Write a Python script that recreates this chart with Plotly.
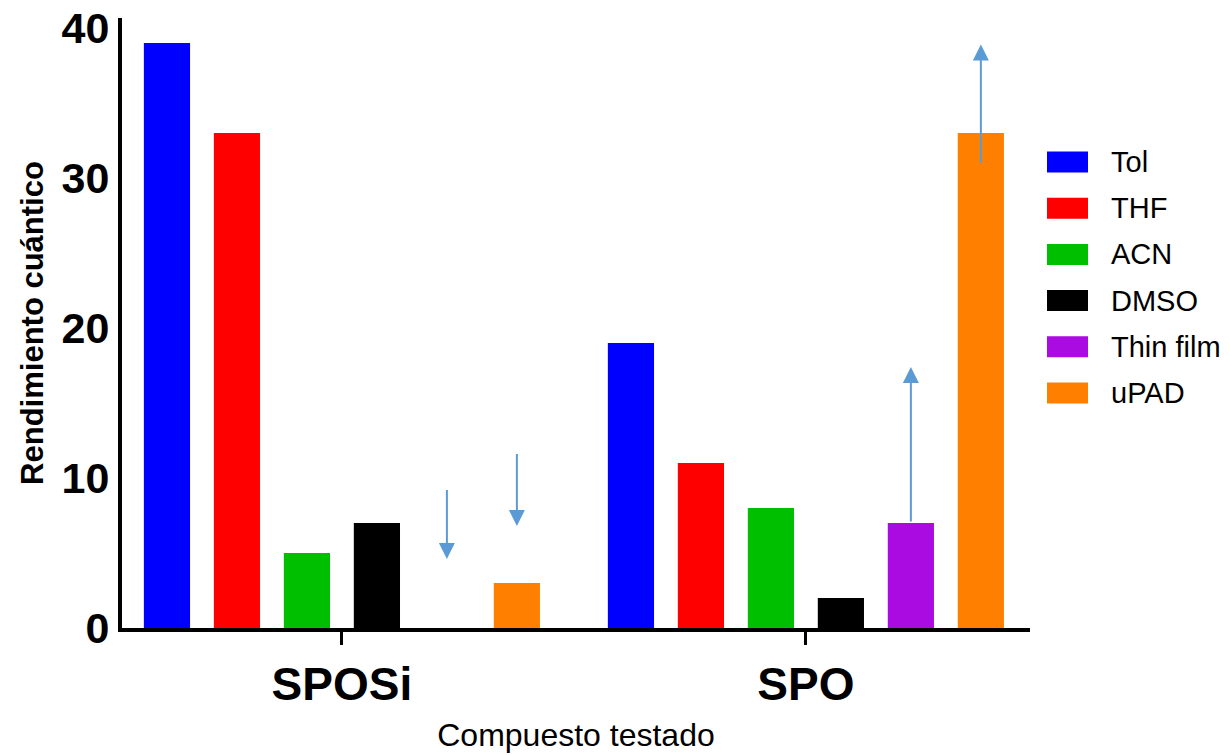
import plotly.graph_objects as go

# Data
groups = ["SPOSi", "SPO"]
series_names = ["Tol", "THF", "ACN", "DMSO", "Thin film", "uPAD"]
tol = [39, 19]
thf = [33, 11]
acn = [5, 8]
dmso = [7, 2]
thin_film = [None, 7]
upad = [3, 33]
series_values = [tol, thf, acn, dmso, thin_film, upad]
colors = ["#0000FF", "#FF0000", "#00BF00", "#000000", "#AA0BE0", "#FF8000"]

# arrows: (group index, series index, tail value, tip value)
arrow_group = [0, 0, 1, 1]
arrow_series = [4, 5, 4, 5]
arrow_tail = [9.3, 11.7, 7.0, 30.9]
arrow_tip = [4.6, 6.8, 17.4, 38.9]

FONT = "Liberation Sans, Arial, sans-serif"
OFF = 8  # page body margin
W, H = 1229 - OFF, 755 - OFF
ML, MR, MT, MB = 114, 199, 10, 127
BARGAP = 0.095
NS = len(series_names)

fig = go.Figure()
for name, vals, col in zip(series_names, series_values, colors):
    fig.add_trace(go.Bar(x=groups, y=vals, name=name, marker_color=col,
                         marker_line_width=0, showlegend=False))

# arrows, positioned on the bar centres of the grouped bars
slot = (1 - BARGAP) / NS
for g, s, tail, tip in zip(arrow_group, arrow_series, arrow_tail, arrow_tip):
    xc = g + (s - (NS - 1) / 2) * slot
    fig.add_annotation(x=xc, y=tip, ax=xc, ay=tail, xref="x", yref="y",
                       axref="x", ayref="y", showarrow=True, text="",
                       arrowhead=2, arrowwidth=2, arrowsize=1.6,
                       arrowcolor="#5B9BD5", standoff=0)

# custom legend (large swatches like the original); positions in screen pixels
pw = W - ML - MR
ph = H - MT - MB
def px_x(p):
    return (p - OFF - ML) / pw
def px_y(p):
    return (H - MB - (p - OFF)) / ph

for i, (name, col) in enumerate(zip(series_names, colors)):
    yc = 162 + 46.2 * i
    fig.add_shape(type="rect", xref="paper", yref="paper",
                  x0=px_x(1047), x1=px_x(1088), y0=px_y(yc + 10.5), y1=px_y(yc - 10.5),
                  fillcolor=col, line_width=0)
    fig.add_annotation(xref="paper", yref="paper", x=px_x(1109), y=px_y(yc),
                       xanchor="left", yanchor="middle", text=name, showarrow=False,
                       font=dict(family=FONT, size=29, color="black"))

fig.update_layout(
    width=W, height=H,
    margin=dict(l=ML, r=MR, t=MT, b=MB, autoexpand=False),
    paper_bgcolor="white", plot_bgcolor="white",
    barmode="group", bargap=BARGAP, bargroupgap=0.34,
    showlegend=False,
    font=dict(family=FONT, color="black"),
    xaxis=dict(range=[-0.474, 1.483], showline=True, linewidth=4, linecolor="black",
               automargin=False,
               ticks="outside", ticklen=13, tickwidth=3, tickcolor="black",
               tickfont=dict(family=FONT, size=46, weight="bold"),
               showgrid=False, zeroline=False,
               title=dict(text="Compuesto testado", font=dict(family=FONT, size=32),
                          standoff=15)),
    yaxis=dict(range=[0, 40.67], tickvals=[0, 10, 20, 30, 40], showline=True,
               automargin=False, ticklabeloverflow="allow",
               linewidth=4, linecolor="black", ticks="",
               tickfont=dict(family=FONT, size=43, weight="bold"),
               showgrid=False, zeroline=False,
               title=dict(text="Rendimiento cuántico",
                          font=dict(family=FONT, size=31, weight="bold"), standoff=10)),
)

fig.write_html("out.html")
